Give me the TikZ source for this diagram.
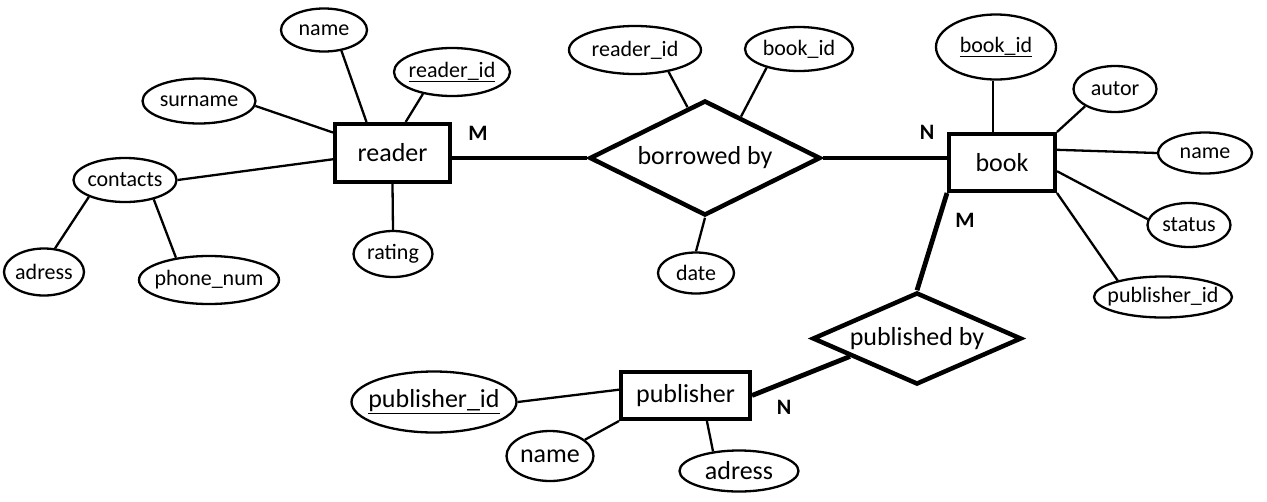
\documentclass[tikz,border=0pt]{standalone}
\usepackage{fontspec}
\setmainfont{Carlito}
\usetikzlibrary{shapes.geometric}
\newcommand\zt[1]{\makebox[0pt]{#1}}
\begin{document}
\begin{tikzpicture}[x=1pt,y=-1pt,
  attr/.style={ellipse,draw,line width=2.3pt,inner sep=0pt,font=\fontsize{22}{26}\selectfont},
  bigattr/.style={attr,font=\fontsize{26}{30}\selectfont},
  entity/.style={rectangle,draw,line width=4pt,inner sep=0pt,font=\fontsize{26}{30}\selectfont},
  rel/.style={diamond,draw,line width=4.5pt,inner sep=0pt,font=\fontsize{26}{30}\selectfont},
  conn/.style={line width=2.3pt},
  strong/.style={line width=4.8pt},
  card/.style={font=\bfseries\fontsize{22}{26}\selectfont}
]
\useasboundingbox (0,0) rectangle (1267,501);
% entities
\node[entity,minimum width=115pt,minimum height=58pt] (reader) at (392.5,153) {\zt{reader}};
\node[entity,minimum width=106pt,minimum height=57pt] (book) at (1002,162.5) {\zt{book}};
\node[entity,minimum width=129pt,minimum height=47pt] (publisher) at (685.5,395.5) {\zt{publisher}};
% relationships
\node[rel,minimum width=231pt,minimum height=115pt] (bb) at (705,158) {\zt{borrowed by}};
\node[rel,minimum width=209pt,minimum height=92pt] (pb) at (917,338.5) {\zt{\raisebox{2pt}{published by}}};
% reader attributes
\node[attr,minimum width=86pt,minimum height=43pt] (rname) at (324,30) {\zt{name}};
\node[attr,minimum width=116pt,minimum height=48pt] (rid) at (452,72) {\zt{\underline{reader\_id}}};
\node[attr,minimum width=113pt,minimum height=45pt] (surname) at (199,101) {\zt{surname}};
\node[attr,minimum width=103pt,minimum height=44pt] (contacts) at (125,180) {\zt{contacts}};
\node[attr,minimum width=80pt,minimum height=47pt] (radress) at (44,272) {\zt{adress}};
\node[attr,minimum width=140pt,minimum height=48pt] (phone) at (209,280) {\zt{phone\_num}};
\node[attr,minimum width=79pt,minimum height=46pt] (rating) at (393,254) {\zt{rating}};
% borrowed by attributes
\node[attr,minimum width=132pt,minimum height=48pt] (bbrid) at (635,50) {\zt{reader\_id}};
\node[attr,minimum width=108pt,minimum height=44pt] (bbbid) at (799,49) {\zt{book\_id}};
\node[attr,minimum width=76pt,minimum height=41pt] (date) at (696,273) {\zt{date}};
% book attributes
\node[attr,minimum width=120pt,minimum height=65pt] (bid) at (996,47) {\zt{\underline{book\_id}}};
\node[attr,minimum width=83pt,minimum height=46pt] (autor) at (1115,89) {\zt{autor}};
\node[attr,minimum width=94pt,minimum height=41pt] (bname) at (1205,153) {\zt{name}};
\node[attr,minimum width=83pt,minimum height=44pt] (status) at (1189,225) {\zt{status}};
\node[attr,minimum width=138pt,minimum height=41pt] (bpid) at (1163,297) {\zt{publisher\_id}};
% publisher attributes
\node[bigattr,minimum width=165pt,minimum height=61pt] (ppid) at (434,402) {\zt{\underline{publisher\_id}}};
\node[bigattr,minimum width=87pt,minimum height=50pt] (pname) at (550,456) {\zt{name}};
\node[bigattr,minimum width=119pt,minimum height=41pt] (padr) at (739,471) {\zt{adress}};
% cardinalities
\node[card] (m1) at (478,133) {M};
\node[card] (n1) at (927,132) {N};
\node[card] (m2) at (965,220) {M};
\node[card] (n2) at (784,407) {N};
% connectors
\draw[conn] (rname.-50) -- (reader.130);
\draw[conn] (rid.217) -- (reader.67);
\draw[conn] (surname.-5) -- (reader.161);
\draw[conn] (contacts.east) -- (reader.186);
\draw[conn] (contacts.205) -- (radress.65);
\draw[conn] (contacts.-34) -- (phone.146);
\draw[conn] (reader.south) -- (rating.north);
\draw[strong] (bb.west -| reader.east) -- (bb.west);
\draw[conn] (bbrid.-33) -- (bb.109);
\draw[conn] (bbbid.210) -- (bb.49);
\draw[conn] (bb.south) -- (date.north);
\draw[strong] (bb.east) -- (bb.east -| book.west);
\draw[conn] (bid.-95) -- (bid.-95 |- book.north);
\draw[conn] (book.north east) -- (autor.210);
\draw[conn] (book.13) -- (bname.west);
\draw[conn] (book.-9) -- (status.172);
\draw[conn] (book.south east) -- (bpid.160);
\draw[strong] (book.south west) -- (pb.north);
\draw[strong] (publisher.east) -- (pb.195);
\draw[conn] (ppid.east) -- (publisher.175);
\draw[conn] (pname.25) -- (publisher.south west);
\draw[conn] (publisher.-50) -- (padr.143);
\end{tikzpicture}
\end{document}
